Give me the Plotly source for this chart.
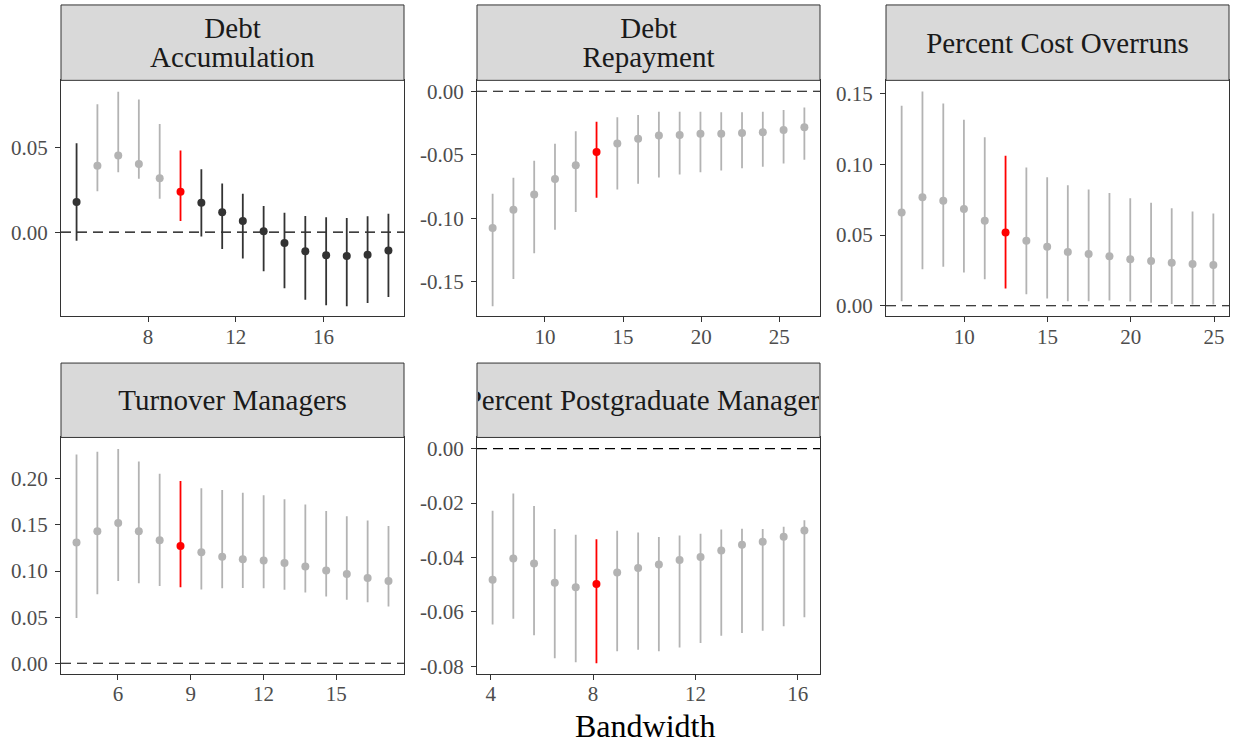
import plotly.graph_objects as go

# ---- data: point estimates and 95% CIs across bandwidths ----
panel_titles = [
    ["Debt", "Accumulation"],
    ["Debt", "Repayment"],
    ["Percent Cost Overruns"],
    ["Turnover Managers"],
    ["Percent Postgraduate Managers"],
]
optimal_bw = [9.48, 13.30, 12.48, 8.58, 8.13]

bw_debt_acc = [4.74, 5.69, 6.64, 7.58, 8.53, 9.48, 10.43, 11.38, 12.32, 13.27, 14.22, 15.17, 16.12, 17.06, 18.01, 18.96]
est_debt_acc = [0.0178, 0.0393, 0.0453, 0.0402, 0.0318, 0.0238, 0.0174, 0.0117, 0.0066, 0.0006, -0.0064, -0.0113, -0.0137, -0.0141, -0.0133, -0.0109]
lo_debt_acc = [-0.0051, 0.0242, 0.0354, 0.0315, 0.0197, 0.0066, -0.0025, -0.0100, -0.0156, -0.0231, -0.0332, -0.0399, -0.0432, -0.0438, -0.0418, -0.0383]
hi_debt_acc = [0.0526, 0.0756, 0.0830, 0.0784, 0.0639, 0.0483, 0.0371, 0.0287, 0.0227, 0.0154, 0.0115, 0.0096, 0.0088, 0.0084, 0.0094, 0.0109]

bw_debt_rep = [6.65, 7.98, 9.31, 10.64, 11.97, 13.30, 14.63, 15.96, 17.29, 18.62, 19.95, 21.28, 22.61, 23.94, 25.27, 26.60]
est_debt_rep = [-0.1076, -0.0931, -0.0811, -0.0689, -0.0582, -0.0478, -0.0411, -0.0374, -0.0348, -0.0343, -0.0335, -0.0335, -0.0328, -0.0322, -0.0304, -0.0283]
lo_debt_rep = [-0.1690, -0.1477, -0.1274, -0.1089, -0.0949, -0.0837, -0.0772, -0.0728, -0.0679, -0.0655, -0.0637, -0.0624, -0.0606, -0.0593, -0.0569, -0.0538]
hi_debt_rep = [-0.0806, -0.0681, -0.0546, -0.0413, -0.0315, -0.0239, -0.0205, -0.0187, -0.0161, -0.0161, -0.0161, -0.0164, -0.0164, -0.0161, -0.0148, -0.0127]

bw_cost = [6.24, 7.49, 8.74, 9.98, 11.23, 12.48, 13.73, 14.98, 16.22, 17.47, 18.72, 19.97, 21.22, 22.46, 23.71, 24.96]
est_cost = [0.0659, 0.0767, 0.0743, 0.0685, 0.0601, 0.0519, 0.0460, 0.0418, 0.0381, 0.0367, 0.0351, 0.0330, 0.0316, 0.0304, 0.0295, 0.0288]
lo_cost = [0.0033, 0.0259, 0.0276, 0.0236, 0.0187, 0.0122, 0.0082, 0.0051, 0.0033, 0.0033, 0.0037, 0.0030, 0.0021, 0.0012, 0.0009, 0.0009]
hi_cost = [0.1414, 0.1515, 0.1431, 0.1316, 0.1192, 0.1061, 0.0977, 0.0909, 0.0853, 0.0823, 0.0797, 0.0760, 0.0729, 0.0690, 0.0666, 0.0652]

bw_turn = [4.29, 5.15, 6.01, 6.86, 7.72, 8.58, 9.44, 10.30, 11.15, 12.01, 12.87, 13.73, 14.59, 15.44, 16.30, 17.16]
est_turn = [0.1308, 0.1430, 0.1520, 0.1430, 0.1333, 0.1272, 0.1204, 0.1154, 0.1129, 0.1115, 0.1086, 0.1050, 0.1007, 0.0968, 0.0925, 0.0892]
lo_turn = [0.0491, 0.0749, 0.0892, 0.0867, 0.0839, 0.0824, 0.0799, 0.0814, 0.0817, 0.0814, 0.0796, 0.0767, 0.0724, 0.0688, 0.0663, 0.0616]
hi_turn = [0.2262, 0.2294, 0.2323, 0.2186, 0.2054, 0.1975, 0.1896, 0.1878, 0.1849, 0.1821, 0.1778, 0.1720, 0.1652, 0.1595, 0.1548, 0.1487]

bw_postgrad = [4.07, 4.88, 5.69, 6.50, 7.32, 8.13, 8.94, 9.76, 10.57, 11.38, 12.20, 13.01, 13.82, 14.63, 15.45, 16.26]
est_postgrad = [-0.0482, -0.0404, -0.0422, -0.0493, -0.0509, -0.0497, -0.0455, -0.0438, -0.0426, -0.0409, -0.0398, -0.0374, -0.0353, -0.0342, -0.0324, -0.0301]
lo_postgrad = [-0.0646, -0.0625, -0.0685, -0.0770, -0.0785, -0.0788, -0.0744, -0.0739, -0.0744, -0.0730, -0.0714, -0.0687, -0.0677, -0.0669, -0.0652, -0.0619]
hi_postgrad = [-0.0228, -0.0165, -0.0211, -0.0295, -0.0316, -0.0333, -0.0302, -0.0308, -0.0325, -0.0319, -0.0313, -0.0297, -0.0294, -0.0295, -0.0287, -0.0263]

# tick marks per panel
x_ticks = [[8, 12, 16], [10, 15, 20, 25], [10, 15, 20, 25], [6, 9, 12, 15], [4, 8, 12, 16]]
y_ticks = [
    [0.00, 0.05],
    [0.00, -0.05, -0.10, -0.15],
    [0.00, 0.05, 0.10, 0.15],
    [0.00, 0.05, 0.10, 0.15, 0.20],
    [0.00, -0.02, -0.04, -0.06, -0.08],
]
x_ranges = [[4.03, 19.67], [5.65, 27.60], [5.30, 25.90], [3.65, 17.80], [3.46, 16.87]]
y_ranges = [[-0.0498, 0.0897], [-0.1771, 0.0086], [-0.0075, 0.1594], [-0.0111, 0.2448], [-0.0826, 0.0041]]

panels = [
    (bw_debt_acc, est_debt_acc, lo_debt_acc, hi_debt_acc),
    (bw_debt_rep, est_debt_rep, lo_debt_rep, hi_debt_rep),
    (bw_cost, est_cost, lo_cost, hi_cost),
    (bw_turn, est_turn, lo_turn, hi_turn),
    (bw_postgrad, est_postgrad, lo_postgrad, hi_postgrad),
]

# ---- layout geometry (pixels) ----
W, H = 1237, 744
col_px = [(61, 404), (477, 820), (886, 1229)]
row_px = [(80, 318, 4), (440, 678, 365)]  # plot top, plot bottom, strip top
cells = [(0, 0), (0, 1), (0, 2), (1, 0), (1, 1)]

FONT = "Liberation Serif"
GRAY_PT = "#B3B3B3"
DARK_PT = "#333333"
RED_PT = "#FF0000"

fig = go.Figure()
shapes = []
annotations = []

for i, ((bw, est, lo, hi), (r, c)) in enumerate(zip(panels, cells)):
    n = i + 1
    xa = "x" if n == 1 else f"x{n}"
    ya = "y" if n == 1 else f"y{n}"

    groups = {RED_PT: [], GRAY_PT: [], DARK_PT: []}
    for j in range(len(bw)):
        if abs(bw[j] - optimal_bw[i]) < 1e-6:
            col = RED_PT
        elif lo[j] > 0 or hi[j] < 0:
            col = GRAY_PT
        else:
            col = DARK_PT
        groups[col].append(j)

    for col in (GRAY_PT, DARK_PT, RED_PT):
        idx = groups[col]
        if not idx:
            continue
        fig.add_trace(go.Scatter(
            x=[bw[j] for j in idx],
            y=[est[j] for j in idx],
            mode="markers",
            marker=dict(color=col, size=8, line=dict(width=0)),
            error_y=dict(
                type="data", symmetric=False,
                array=[hi[j] - est[j] for j in idx],
                arrayminus=[est[j] - lo[j] for j in idx],
                color=col, thickness=1.8, width=0,
            ),
            xaxis=xa, yaxis=ya, showlegend=False, hoverinfo="x+y",
        ))

    x0, x1 = col_px[c]
    top, bot, stop = row_px[r]
    xdom = [x0 / W, x1 / W]
    ydom = [1 - bot / H, 1 - top / H]

    axis_common = dict(
        showgrid=False, zeroline=False,
        showline=True, mirror=True, linecolor="#333333", linewidth=1,
        ticks="outside", ticklen=5, tickcolor="#333333", tickwidth=1,
        tickfont=dict(family=FONT, size=21, color="#4D4D4D"),
    )
    key_x = "xaxis" if n == 1 else f"xaxis{n}"
    key_y = "yaxis" if n == 1 else f"yaxis{n}"
    fig.update_layout({
        key_x: dict(axis_common, domain=xdom, range=x_ranges[i], anchor=ya,
                    ticklabelstandoff=-4,
                    tickvals=x_ticks[i], ticktext=[str(v) for v in x_ticks[i]]),
        key_y: dict(axis_common, domain=ydom, range=y_ranges[i], anchor=xa,
                    ticklabelstandoff=3,
                    tickvals=y_ticks[i], ticktext=[f"{v:.2f}" for v in y_ticks[i]]),
    })

    # dashed reference line at zero
    shapes.append(dict(
        type="line", xref=f"{xa} domain", yref=ya, x0=0, x1=1, y0=0, y1=0,
        line=dict(color="black", width=1.1, dash="10px,6px"), layer="below",
    ))

    # facet strip
    shapes.append(dict(
        type="rect", xref="paper", yref="paper",
        x0=x0 / W, x1=x1 / W, y0=1 - top / H, y1=1 - stop / H,
        fillcolor="#D9D9D9", line=dict(color="#333333", width=1), layer="above",
    ))
    lines = panel_titles[i]
    centre = (stop + top) / 2
    spacing = 29
    for k, txt in enumerate(lines):
        yc = centre + (k - (len(lines) - 1) / 2) * spacing
        annotations.append(dict(
            text=txt, xref="paper", yref="paper",
            x=(x0 + x1) / 2 / W, y=1 - yc / H,
            xanchor="center", yanchor="middle", showarrow=False,
            width=x1 - x0 - 2, align="center",
            font=dict(family=FONT, size=29, color="#1A1A1A"),
        ))

# shared x-axis title
annotations.append(dict(
    text="Bandwidth", xref="paper", yref="paper",
    x=645 / W, y=1 - 731 / H, xanchor="center", yanchor="middle",
    showarrow=False, font=dict(family=FONT, size=32, color="black"),
))

fig.update_layout(
    width=W, height=H,
    margin=dict(l=0, r=0, t=0, b=0),
    paper_bgcolor="white", plot_bgcolor="white",
    shapes=shapes, annotations=annotations,
    showlegend=False,
)

fig.write_html("out.html")
